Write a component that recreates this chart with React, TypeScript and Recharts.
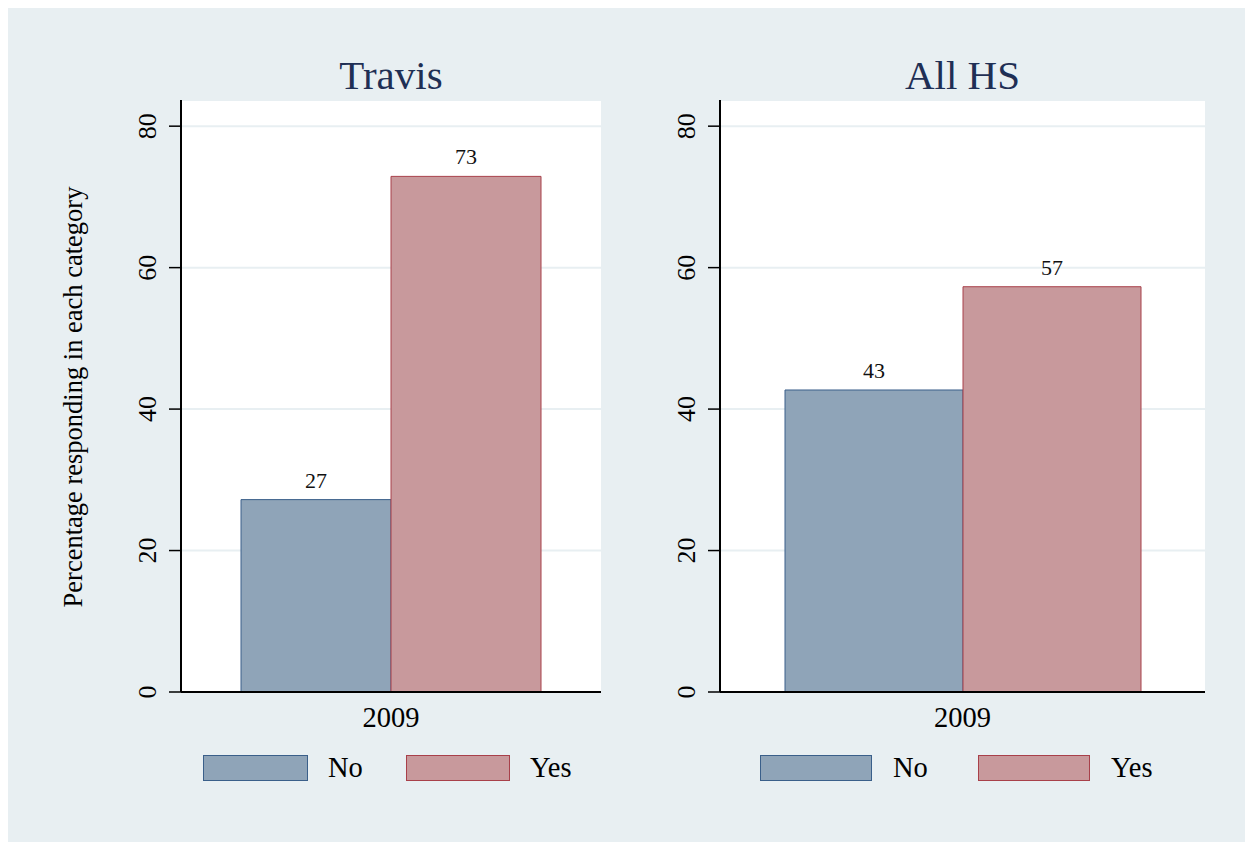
import { BarChart, Bar, XAxis, YAxis, CartesianGrid, LabelList } from 'recharts';

const years = ['2009'];
const travisNo = [27.2];
const travisYes = [72.9];
const allHsNo = [42.7];
const allHsYes = [57.3];
const yTicks = [0, 20, 40, 60, 80];

const SERIF = "'Liberation Serif', 'Times New Roman', serif";
const BG = '#e8eff2';
const NO_FILL = '#8fa4b8';
const NO_LINE = '#3a5f8a';
const YES_FILL = '#c8999c';
const YES_LINE = '#a8404a';

const buildRows = (no: number[], yes: number[]) =>
    years.map((year, i) => ({ year, No: no[i], Yes: yes[i] }));

const YTick = ({ x, y, payload }: any) => (
    <text x={x - 13} y={y} transform={`rotate(-90, ${x - 13}, ${y})`}
        textAnchor="middle" fontFamily={SERIF} fontSize={26} fill="#000">
        {payload.value}
    </text>
);

const XTick = ({ x, y, payload }: any) => (
    <text x={x} y={y} dy={35} textAnchor="middle" fontFamily={SERIF} fontSize={28.5} fill="#000">
        {payload.value}
    </text>
);

const YLabel = ({ viewBox }: any) => {
    const cx = viewBox.x + 42;
    const cy = viewBox.y + viewBox.height / 2 + 1;
    return (
        <text x={cx} y={cy} transform={`rotate(-90, ${cx}, ${cy})`} textAnchor="middle"
            fontFamily={SERIF} fontSize={26.5} fill="#000">
            Percentage responding in each category
        </text>
    );
};

type PanelProps = {
    rows: { year: string; No: number; Yes: number }[];
    left: number;
    yAxisWidth: number;
    marginRight: number;
    gap: number;
    withLabel?: boolean;
};

const Panel = ({ rows, left, yAxisWidth, marginRight, gap, withLabel }: PanelProps) => (
    <div style={{ position: 'absolute', left, top: 32 }}>
        <BarChart width={600} height={760} data={rows} barGap={0} barCategoryGap={gap}
            margin={{ top: 60, right: marginRight, bottom: 0, left: 0 }}>
            <CartesianGrid vertical={false} fill="#fff" stroke={BG} strokeWidth={2} />
            <XAxis dataKey="year" height={108} tickLine={false} tickSize={0} tickMargin={0}
                tick={<XTick />} axisLine={{ stroke: '#000', strokeWidth: 2 }} />
            <YAxis width={yAxisWidth} domain={[0, 83.7]} ticks={yTicks} tickSize={12} tickMargin={0}
                tick={<YTick />} tickLine={{ stroke: '#000', strokeWidth: 1.5 }}
                axisLine={{ stroke: '#000', strokeWidth: 2 }}
                label={withLabel ? <YLabel /> : undefined} />
            <Bar dataKey="No" fill={NO_FILL} stroke={NO_LINE} strokeWidth={1} isAnimationActive={false}>
                <LabelList dataKey="No" position="top" offset={12} formatter={(v: any) => Math.round(v)}
                    fontFamily={SERIF} fontSize={22} fill="#111" />
            </Bar>
            <Bar dataKey="Yes" fill={YES_FILL} stroke={YES_LINE} strokeWidth={1} isAnimationActive={false}>
                <LabelList dataKey="Yes" position="top" offset={12} formatter={(v: any) => Math.round(v)}
                    fontFamily={SERIF} fontSize={22} fill="#111" />
            </Bar>
        </BarChart>
    </div>
);

const Title = ({ text, center }: { text: string; center: number }) => (
    <div style={{
        position: 'absolute', left: center - 150, width: 300, top: 47, textAlign: 'center',
        fontFamily: SERIF, fontSize: 41, lineHeight: '41px', color: '#1f2f55'
    }}>{text}</div>
);

const LegendItem = ({ x, w, label, textX, fill, line }: any) => (
    <>
        <div style={{
            position: 'absolute', left: x, top: 747, width: w, height: 26, boxSizing: 'border-box',
            background: fill, border: `1.5px solid ${line}`
        }} />
        <div style={{
            position: 'absolute', left: textX, top: 746, fontFamily: SERIF, fontSize: 28.5,
            lineHeight: '28px', color: '#000'
        }}>{label}</div>
    </>
);

export default function App() {
    return (
        <div style={{ position: 'relative', width: 1245, height: 834, background: BG, overflow: 'hidden' }}>
            <Panel rows={buildRows(travisNo, travisYes)} left={32} yAxisWidth={141} marginRight={39} gap={60} withLabel />
            <Panel rows={buildRows(allHsNo, allHsYes)} left={632} yAxisWidth={80} marginRight={35} gap={65} />
            <Title text="Travis" center={383} />
            <Title text="All HS" center={954.5} />
            <LegendItem x={195} w={105} label="No" textX={320} fill={NO_FILL} line={NO_LINE} />
            <LegendItem x={398} w={104} label="Yes" textX={522} fill={YES_FILL} line={YES_LINE} />
            <LegendItem x={752} w={112} label="No" textX={885} fill={NO_FILL} line={NO_LINE} />
            <LegendItem x={970} w={112} label="Yes" textX={1103} fill={YES_FILL} line={YES_LINE} />
        </div>
    );
}
